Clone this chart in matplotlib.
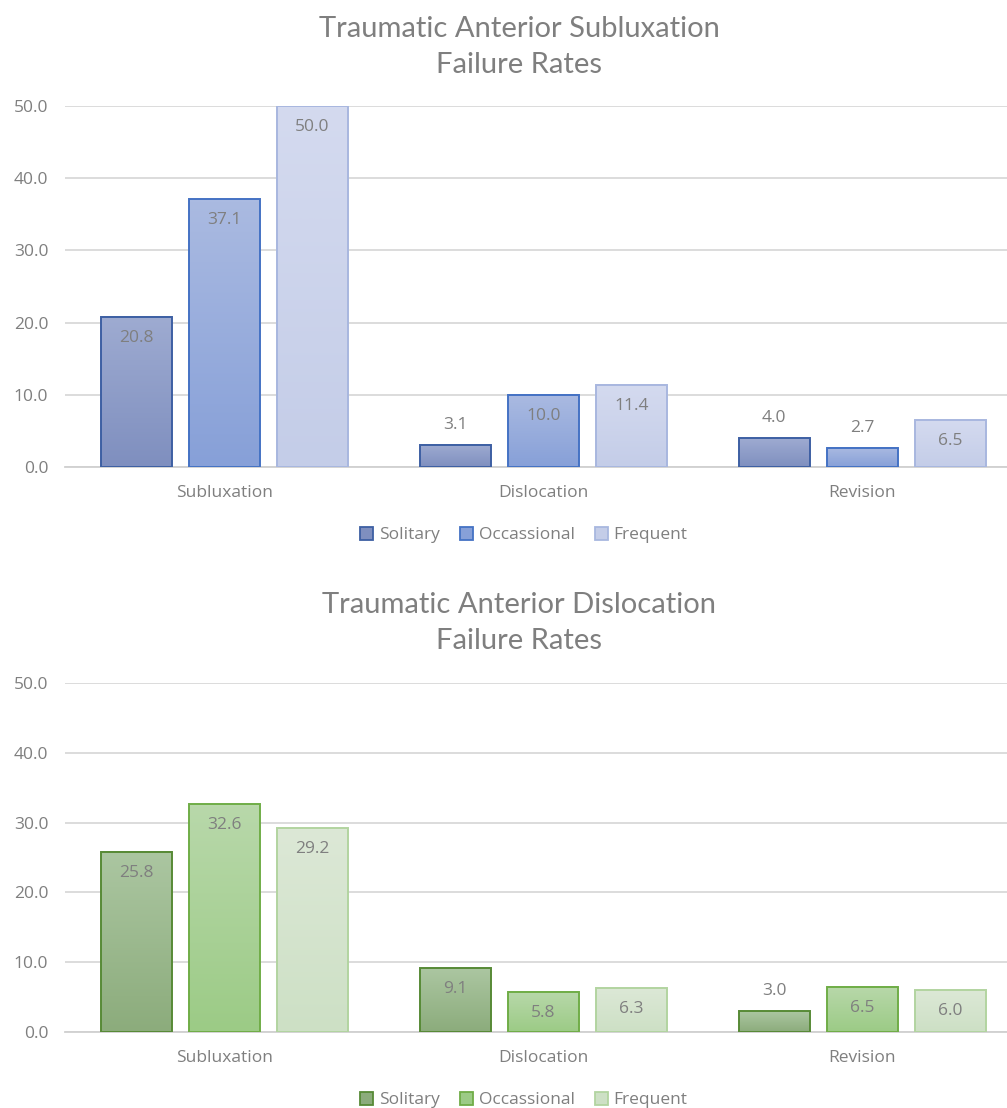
import numpy as np
import matplotlib
matplotlib.use('Agg')
import matplotlib.pyplot as plt
from matplotlib.colors import LinearSegmentedColormap
from matplotlib.patches import Patch

plt.rcParams['font.family'] = ['Open Sans', 'DejaVu Sans']

categories = ['Subluxation', 'Dislocation', 'Revision']
series = ['Solitary', 'Occassional', 'Frequent']

# Traumatic anterior subluxation
sub_solitary = [20.8, 3.1, 4.0]
sub_occasional = [37.1, 10.0, 2.7]
sub_frequent = [50.0, 11.4, 6.5]

# Traumatic anterior dislocation
dis_solitary = [25.8, 9.1, 3.0]
dis_occasional = [32.6, 5.8, 6.5]
dis_frequent = [29.2, 6.3, 6.0]

yticks = [0, 10, 20, 30, 40, 50]

# (top colour, bottom colour, edge colour)
blue_cols = [('#9eabd1', '#7f8fbf', '#3d5fa3'),
             ('#aabae1', '#87a0d8', '#4472c4'),
             ('#d4daef', '#c4cde8', '#a8b7df')]
green_cols = [('#abc6a1', '#8cac7c', '#578a36'),
              ('#b8d8aa', '#9ccb86', '#70ad47'),
              ('#dce8d6', '#cde0c5', '#b2d4a0')]

grey = '#7f7f7f'
W, H = 1007, 1108
fig = plt.figure(figsize=(W/100, H/100), dpi=100)

bw = 71/319.0
step = 88/319.0
fs = 12.5


def draw_chart(ax, data, cols):
    x = np.arange(len(categories))
    for i, vals in enumerate(data):
        top, bot, edge = cols[i]
        cmap = LinearSegmentedColormap.from_list('g%d' % i, [bot, top])
        grad = np.linspace(0, 1, 64).reshape(-1, 1)
        xs = x + (i-1)*step
        for xc, v in zip(xs, vals):
            ax.imshow(grad, extent=[xc-bw/2, xc+bw/2, 0, v], origin='lower',
                      cmap=cmap, aspect='auto', zorder=2, interpolation='bilinear')
        ax.bar(xs, vals, bw, facecolor='none', edgecolor=edge, linewidth=1.4, zorder=3)
        for xc, v in zip(xs, vals):
            # labels go inside the bar top unless the bar is too short
            if v >= 5:
                off = -21
            else:
                off = 20
            ax.annotate('%.1f' % v, (xc, v), xytext=(0, off), textcoords='offset pixels',
                        ha='center', va='center', fontsize=fs, color=grey, zorder=4)
    ax.set_xlim(-0.5, (1007-224)/319.0)
    ax.set_ylim(0, 50)
    ax.set_yticks(yticks)
    ax.set_yticklabels(['%.1f' % t for t in yticks])
    ax.set_xticks(x)
    ax.set_xticklabels(categories)
    ax.tick_params(length=0, labelsize=fs, labelcolor=grey)
    ax.tick_params(axis='y', pad=12)
    ax.tick_params(axis='x', pad=13)
    ax.grid(axis='y', color='#d9d9d9', linewidth=1.3, zorder=0)
    ax.set_axisbelow(True)
    for s in ['top', 'right', 'left']:
        ax.spines[s].set_visible(False)
    ax.spines['bottom'].set_color('#d0d0d0')
    ax.spines['bottom'].set_linewidth(1.3)
    ax.spines['bottom'].set_zorder(1)


ax1 = fig.add_axes([65/W, 1-467/H, 1-65/W, (467-106)/H])
draw_chart(ax1, [sub_solitary, sub_occasional, sub_frequent], blue_cols)
fig.text(519/W, 1-47/H, 'Traumatic Anterior Subluxation\nFailure Rates', ha='center', va='center',
         fontsize=21, color=grey, linespacing=1.45, family=['Lato', 'DejaVu Sans'])

ax2 = fig.add_axes([65/W, 1-1032/H, 1-65/W, (1032-683)/H])
draw_chart(ax2, [dis_solitary, dis_occasional, dis_frequent], green_cols)
fig.text(519/W, 1-623/H, 'Traumatic Anterior Dislocation\nFailure Rates', ha='center', va='center',
         fontsize=21, color=grey, linespacing=1.45, family=['Lato', 'DejaVu Sans'])

for cols, yc in [(blue_cols, 535), (green_cols, 1100)]:
    handles = []
    for (top, bot, edge), name in zip(cols, series):
        handles.append(Patch(facecolor=bot, edgecolor=edge, linewidth=1.3, label=name))
    leg = fig.legend(handles=handles, loc='center', bbox_to_anchor=(524/W, 1-yc/H), ncol=3,
                     frameon=False, fontsize=fs, handlelength=0.75, handleheight=0.75,
                     handletextpad=0.3, columnspacing=1.2)
    for t in leg.get_texts():
        t.set_color(grey)

fig.savefig('out.png', dpi=100)
